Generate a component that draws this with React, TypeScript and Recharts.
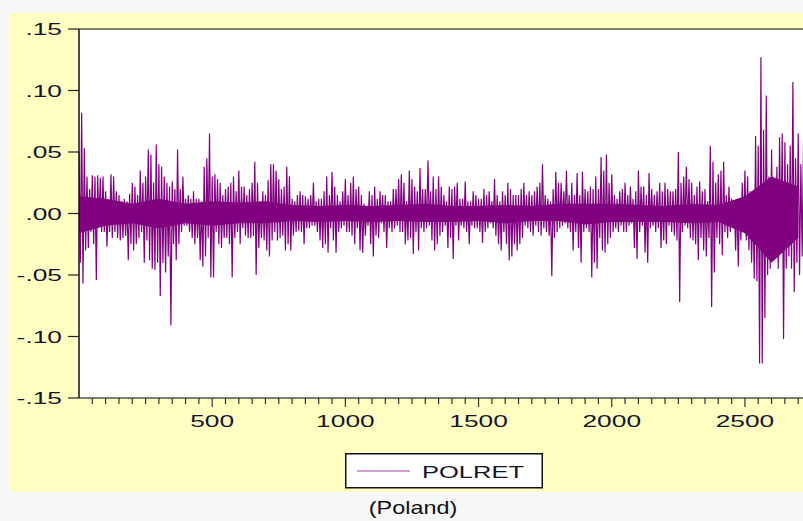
import { ComposedChart, Line, Area, XAxis, YAxis, ReferenceLine } from "recharts";

const obsStep = 10;

// local highs of POLRET, in thousandths, one per 10 observations
const polretHigh = [
  50, 82, 53, 30, 20, 31, 30, 31, 29, 30,
  18, 10, 32, 30, 18, 15, 10, 12, 10, 16,
  25, 22, 15, 35, 25, 30, 52, 48, 25, 56,
  40, 38, 30, 25, 22, 26, 20, 52, 20, 30,
  12, 15, 12, 18, 12, 12, 10, 38, 45, 65,
  30, 32, 28, 25, 15, 20, 22, 25, 30, 18,
  35, 22, 22, 15, 20, 25, 42, 25, 10, 18,
  15, 27, 40, 40, 35, 28, 20, 22, 38, 30,
  12, 10, 15, 18, 15, 14, 12, 15, 25, 10,
  12, 12, 18, 30, 15, 34, 22, 15, 10, 18,
  28, 15, 25, 30, 20, 22, 15, 8, 5, 18,
  15, 22, 12, 18, 15, 15, 10, 10, 20, 20,
  28, 32, 25, 10, 35, 28, 22, 18, 37, 20,
  20, 43, 18, 30, 20, 30, 22, 15, 10, 22,
  20, 22, 25, 12, 12, 26, 10, 10, 18, 15,
  12, 12, 20, 15, 18, 10, 28, 15, 10, 18,
  15, 25, 20, 15, 15, 15, 20, 25, 15, 18,
  15, 18, 22, 25, 40, 15, 12, 10, 20, 34,
  25, 25, 18, 35, 15, 25, 15, 33, 15, 34,
  20, 18, 22, 20, 30, 20, 46, 35, 48, 25,
  32, 15, 12, 18, 20, 25, 15, 22, 12, 18,
  35, 22, 22, 15, 33, 20, 15, 18, 25, 18,
  25, 20, 18, 18, 20, 50, 25, 30, 38, 28,
  25, 15, 22, 26, 18, 20, 10, 55, 42, 25,
  32, 35, 42, 15, 22, 12, 10, 12, 10, 25,
  35, 30, 18, 10, 63, 55, 127, 68, 96, 30,
  52, 15, 38, 62, 65, 58, 40, 55, 107, 45,
  65, 40, 60,
];

// local lows of POLRET, in thousandths
const polretLow = [
  -40, -57, -30, -28, -15, -25, -54, -10, -15, -15,
  -27, -15, -20, -15, -20, -22, -20, -18, -38, -25,
  -30, -25, -20, -15, -40, -22, -38, -45, -46, -40,
  -67, -40, -48, -35, -91, -25, -38, -25, -15, -10,
  -10, -15, -20, -25, -20, -38, -43, -35, -20, -52,
  -52, -15, -25, -28, -20, -20, -25, -52, -20, -15,
  -25, -12, -18, -20, -20, -18, -50, -28, -20, -22,
  -30, -35, -22, -15, -22, -20, -18, -30, -25, -30,
  -18, -15, -14, -15, -25, -12, -12, -10, -10, -15,
  -22, -28, -25, -32, -12, -22, -32, -15, -12, -10,
  -15, -15, -18, -25, -12, -30, -32, -18, -10, -25,
  -35, -18, -20, -8, -15, -28, -12, -15, -12, -10,
  -15, -15, -25, -22, -20, -33, -15, -30, -12, -15,
  -12, -10, -22, -30, -25, -18, -15, -10, -28, -20,
  -37, -10, -22, -10, -12, -15, -25, -10, -12, -12,
  -15, -24, -15, -12, -8, -12, -18, -25, -30, -15,
  -25, -38, -35, -25, -30, -25, -20, -10, -12, -15,
  -18, -10, -15, -18, -12, -15, -18, -51, -20, -15,
  -12, -10, -8, -12, -15, -30, -15, -28, -40, -15,
  -12, -15, -52, -40, -45, -20, -30, -32, -25, -20,
  -15, -12, -15, -10, -15, -15, -10, -8, -28, -37,
  -15, -10, -32, -40, -12, -10, -15, -12, -28, -22,
  -25, -10, -15, -18, -22, -72, -15, -10, -12, -20,
  -22, -25, -38, -20, -30, -35, -20, -76, -48, -20,
  -25, -34, -15, -20, -15, -12, -30, -43, -22, -15,
  -22, -30, -40, -53, -55, -122, -122, -85, -50, -45,
  -35, -30, -45, -30, -102, -45, -35, -45, -64, -40,
  -50, -35, -30,
];

// extent of the solid core of the trace, in thousandths, one per 100 observations
const coreStep = 100;
const coreHigh = [
  14, 12, 8, 12, 8, 10, 9, 10, 7, 6,
  7, 6, 7, 8, 6, 6, 7, 6, 8, 8,
  8, 7, 6, 8, 7, 14, 30, 22,
];
const coreLow = [
  -16, -10, -8, -12, -8, -10, -8, -8, -6, -7,
  -6, -7, -6, -7, -7, -6, -8, -6, -6, -9,
  -7, -7, -7, -8, -7, -16, -40, -20,
];

const yTicks = [-0.15, -0.1, -0.05, 0, 0.05, 0.1, 0.15];
const xMajorTicks = [500, 1000, 1500, 2000, 2500];
const xMinorStep = 50;
const xMax = 2718;

const xTicks: number[] = [];
for (let t = xMinorStep; t < xMax; t += xMinorStep) xTicks.push(t);

const data: { obs: number; polret: number }[] = [];
polretHigh.forEach((h, k) => {
  data.push({ obs: k * obsStep, polret: h / 1000 });
  data.push({ obs: k * obsStep + obsStep / 2, polret: polretLow[k] / 1000 });
});

const coreData = coreHigh.map((h, k) => ({
  obs: k * coreStep,
  core: [coreLow[k] / 1000, h / 1000],
}));

const FONT = "'Liberation Sans', Arial, Helvetica, sans-serif";
const INK = "#14142a";
const PURPLE = "#800080";
const YELLOW = "#ffffc2";

const fmtY = (v: number) => v.toFixed(2).replace("0.", ".");

const XTick = (props: any) => {
  const { x, y, payload } = props;
  const major = xMajorTicks.includes(payload.value);
  return (
    <g>
      <line x1={x} x2={x} y1={y} y2={y + (major ? 9 : 6)} stroke="#333" strokeWidth={1.2} />
      {major && (
        <text
          transform={`translate(${x},${y + 29}) scale(1.55,1)`}
          textAnchor="middle"
          fontSize={17}
          fontFamily={FONT}
          fill={INK}
        >
          {payload.value}
        </text>
      )}
    </g>
  );
};

const YTick = (props: any) => {
  const { x, y, payload } = props;
  return (
    <g>
      <line x1={x - 11} x2={x} y1={y} y2={y} stroke="#222" strokeWidth={1.2} />
      <text
        transform={`translate(${x - 17},${y + 6}) scale(1.55,1)`}
        textAnchor="end"
        fontSize={17}
        fontFamily={FONT}
        fill={INK}
      >
        {fmtY(payload.value)}
      </text>
    </g>
  );
};

export default function App() {
  return (
    <div
      style={{
        position: "relative",
        width: 803,
        height: 521,
        overflow: "hidden",
        background: "#f7f7f7",
      }}
    >
      <style>{"body{margin:0;overflow:hidden}"}</style>
      <div
        style={{
          position: "absolute",
          left: 10,
          top: 13,
          width: 793,
          height: 479,
          background: YELLOW,
        }}
      >
        <ComposedChart
          width={793}
          height={479}
          data={data}
          margin={{ top: 16, right: 0, bottom: 64, left: 0 }}
        >
          <rect x={69} y={16} width={724} height={369} fill="#ffffff" />
          <XAxis
            dataKey="obs"
            type="number"
            domain={[0, xMax]}
            allowDataOverflow
            ticks={xTicks}
            interval={0}
            tickSize={0}
            tickMargin={0}
            tickLine={false}
            tick={<XTick />}
            height={30}
            axisLine={{ stroke: "#555", strokeWidth: 1.5 }}
          />
          <YAxis
            type="number"
            domain={[-0.15, 0.15]}
            ticks={yTicks}
            interval={0}
            width={69}
            tickSize={0}
            tickMargin={0}
            tickLine={false}
            tick={<YTick />}
            axisLine={{ stroke: "#111", strokeWidth: 1.5 }}
          />
          <ReferenceLine y={0.15} stroke="#5a5a50" strokeWidth={1.5} />
          <Area
            data={coreData}
            dataKey="core"
            type="linear"
            stroke="none"
            fill={PURPLE}
            fillOpacity={1}
            isAnimationActive={false}
          />
          <Line
            type="linear"
            dataKey="polret"
            stroke={PURPLE}
            strokeWidth={1.2}
            dot={false}
            isAnimationActive={false}
          />
        </ComposedChart>
        <svg
          width={198}
          height={36}
          style={{ position: "absolute", left: 335, top: 440 }}
        >
          <rect x={0.75} y={0.75} width={196.5} height={34} fill="#fff" stroke="#111" strokeWidth={1.5} />
          <line x1={12} x2={65} y1={18} y2={18} stroke="#a040a8" strokeWidth={1.2} />
          <text
            transform="translate(77,25) scale(1.5,1)"
            fontSize={17}
            fontFamily={FONT}
            fill={INK}
          >
            POLRET
          </text>
        </svg>
      </div>
      <svg width={803} height={25} style={{ position: "absolute", left: 0, top: 496 }}>
        <text
          transform="translate(413,18) scale(1.3,1)"
          textAnchor="middle"
          fontSize={18}
          fontFamily={FONT}
          fill="#111"
        >
          (Poland)
        </text>
      </svg>
    </div>
  );
}
